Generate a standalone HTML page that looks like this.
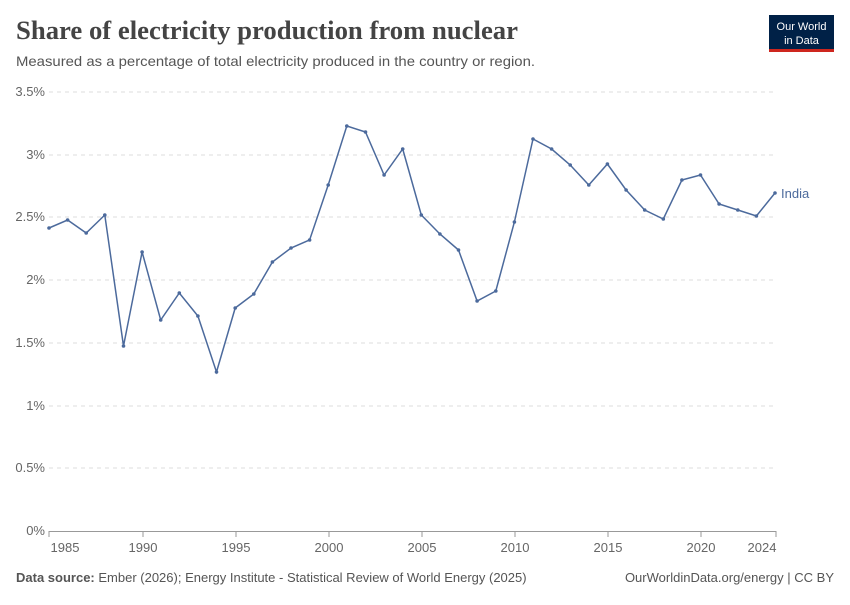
<!DOCTYPE html>
<html><head><meta charset="utf-8"><style>
body{margin:0;background:#fff;width:850px;height:600px;overflow:hidden;font-family:"Liberation Sans",sans-serif}
</style></head><body>
<svg width="850" height="600" xmlns="http://www.w3.org/2000/svg" font-family="Liberation Sans, sans-serif">
<text x="16" y="39" font-family="Liberation Serif, serif" font-size="26" fill="#444" font-weight="bold" textLength="502" lengthAdjust="spacingAndGlyphs">Share of electricity production from nuclear</text>
<text x="16" y="66" font-size="14" fill="#555" textLength="519" lengthAdjust="spacingAndGlyphs">Measured as a percentage of total electricity produced in the country or region.</text>
<rect x="769" y="15" width="65" height="37" fill="#002147"/>
<rect x="769" y="49" width="65" height="3" fill="#ce261e"/>
<text x="801.5" y="30" font-size="11" fill="#fff" text-anchor="middle">Our World</text>
<text x="801.5" y="44" font-size="11" fill="#fff" text-anchor="middle">in Data</text>
<g stroke="#ddd" stroke-dasharray="4,4" stroke-width="1">
<line x1="49" x2="776" y1="92" y2="92"/><line x1="49" x2="776" y1="155" y2="155"/>
<line x1="49" x2="776" y1="217" y2="217"/><line x1="49" x2="776" y1="280" y2="280"/>
<line x1="49" x2="776" y1="343" y2="343"/><line x1="49" x2="776" y1="406" y2="406"/>
<line x1="49" x2="776" y1="468" y2="468"/>
</g>
<line x1="49" x2="776" y1="531.5" y2="531.5" stroke="#999"/>
<g font-size="13" fill="#666" text-anchor="end">
<text x="45" y="96">3.5%</text><text x="45" y="159">3%</text><text x="45" y="221">2.5%</text>
<text x="45" y="284">2%</text><text x="45" y="347">1.5%</text><text x="45" y="410">1%</text>
<text x="45" y="472">0.5%</text><text x="45" y="535">0%</text>
</g>
<g font-size="13" fill="#666" text-anchor="middle">
<text x="65" y="552">1985</text><text x="143" y="552">1990</text><text x="236" y="552">1995</text>
<text x="329" y="552">2000</text><text x="422" y="552">2005</text><text x="515" y="552">2010</text>
<text x="608" y="552">2015</text><text x="701" y="552">2020</text><text x="762" y="552">2024</text>
</g>
<g stroke="#999"><line x1="143" x2="143" y1="531" y2="537"/><line x1="236" x2="236" y1="531" y2="537"/><line x1="329" x2="329" y1="531" y2="537"/><line x1="422" x2="422" y1="531" y2="537"/><line x1="515" x2="515" y1="531" y2="537"/><line x1="608" x2="608" y1="531" y2="537"/><line x1="701" x2="701" y1="531" y2="537"/><line x1="776" x2="776" y1="531" y2="537"/><line x1="49" x2="49" y1="531" y2="537"/></g>
<polyline fill="none" stroke="#4c6a9c" stroke-width="1.5" points="49,228 67.6,220 86.2,233 104.8,215 123.5,346 142.1,252 160.7,320 179.3,293 197.9,316 216.5,372 235.2,308 253.8,294 272.4,262 291,248 309.6,240 328.2,185 346.8,126 365.5,132 384.1,175 402.7,149 421.3,215 439.9,234 458.5,250 477.1,301 495.8,291 514.4,222 533,139 551.6,149 570.2,165 588.8,185 607.4,164 626.1,190 644.7,210 663.3,219 681.9,180 700.5,175 719.1,204 737.8,210 756.4,216 775,193"/>
<g fill="#4c6a9c">
<circle cx="49" cy="228" r="1.8"/><circle cx="67.6" cy="220" r="1.8"/><circle cx="86.2" cy="233" r="1.8"/><circle cx="104.8" cy="215" r="1.8"/><circle cx="123.5" cy="346" r="1.8"/><circle cx="142.1" cy="252" r="1.8"/><circle cx="160.7" cy="320" r="1.8"/><circle cx="179.3" cy="293" r="1.8"/><circle cx="197.9" cy="316" r="1.8"/><circle cx="216.5" cy="372" r="1.8"/><circle cx="235.2" cy="308" r="1.8"/><circle cx="253.8" cy="294" r="1.8"/><circle cx="272.4" cy="262" r="1.8"/><circle cx="291" cy="248" r="1.8"/><circle cx="309.6" cy="240" r="1.8"/><circle cx="328.2" cy="185" r="1.8"/><circle cx="346.8" cy="126" r="1.8"/><circle cx="365.5" cy="132" r="1.8"/><circle cx="384.1" cy="175" r="1.8"/><circle cx="402.7" cy="149" r="1.8"/><circle cx="421.3" cy="215" r="1.8"/><circle cx="439.9" cy="234" r="1.8"/><circle cx="458.5" cy="250" r="1.8"/><circle cx="477.1" cy="301" r="1.8"/><circle cx="495.8" cy="291" r="1.8"/><circle cx="514.4" cy="222" r="1.8"/><circle cx="533" cy="139" r="1.8"/><circle cx="551.6" cy="149" r="1.8"/><circle cx="570.2" cy="165" r="1.8"/><circle cx="588.8" cy="185" r="1.8"/><circle cx="607.4" cy="164" r="1.8"/><circle cx="626.1" cy="190" r="1.8"/><circle cx="644.7" cy="210" r="1.8"/><circle cx="663.3" cy="219" r="1.8"/><circle cx="681.9" cy="180" r="1.8"/><circle cx="700.5" cy="175" r="1.8"/><circle cx="719.1" cy="204" r="1.8"/><circle cx="737.8" cy="210" r="1.8"/><circle cx="756.4" cy="216" r="1.8"/><circle cx="775" cy="193" r="1.8"/>
</g>
<text x="781" y="198" font-size="13" fill="#4c6a9c">India</text>
<text x="16" y="582" font-size="13" fill="#555"><tspan font-weight="bold">Data source:</tspan> Ember (2026); Energy Institute - Statistical Review of World Energy (2025)</text>
<text x="834" y="582" font-size="13" fill="#555" text-anchor="end">OurWorldinData.org/energy | CC BY</text>
</svg>
</body></html>
